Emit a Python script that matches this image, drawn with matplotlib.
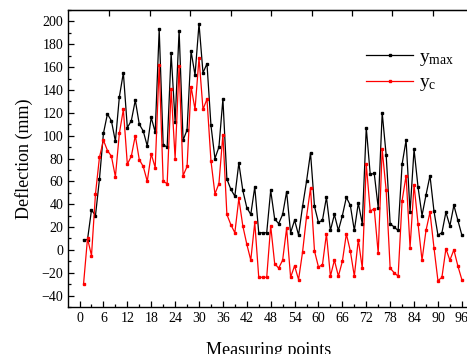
import numpy as np
import matplotlib
matplotlib.use("Agg")
import matplotlib.pyplot as plt
from matplotlib.ticker import MultipleLocator

plt.rcParams['font.family'] = ['Liberation Serif', 'DejaVu Serif']
plt.rcParams['mathtext.fontset'] = 'custom'
plt.rcParams['mathtext.rm'] = 'Liberation Serif'
plt.rcParams['mathtext.it'] = 'Liberation Serif'

points = list(range(1, 97))
y_max = [9, 9, 35, 30, 62, 102, 119, 113, 95, 134, 155, 107, 113, 131, 110, 104,
         91, 116, 103, 193, 92, 90, 172, 112, 192, 96, 105, 174, 153, 198, 155, 163,
         109, 80, 90, 132, 62, 53, 47, 76, 52, 37, 31, 55, 15, 15, 15, 52,
         27, 23, 31, 51, 15, 26, 13, 38, 60, 85, 38, 24, 26, 46, 17, 31,
         17, 30, 46, 39, 17, 41, 23, 107, 66, 67, 37, 120, 83, 23, 20, 17,
         75, 96, 33, 88, 55, 30, 48, 65, 34, 13, 15, 33, 21, 39, 26, 13]
y_c = [-30, 10, -5, 49, 81, 96, 87, 82, 64, 102, 123, 75, 82, 100, 79, 73,
       60, 84, 72, 162, 60, 58, 141, 80, 161, 65, 73, 143, 123, 168, 123, 132,
       78, 49, 58, 101, 31, 22, 15, 45, 21, 5, -9, 24, -24, -24, -24, 21,
       -12, -16, -9, 19, -24, -14, -26, -2, 29, 54, -1, -15, -13, 14, -23, -9,
       -23, -10, 14, -1, -23, 9, -16, 75, 34, 36, -3, 88, 52, -16, -20, -23,
       43, 65, 2, 57, 23, -9, 17, 33, 2, -27, -24, 1, -9, 0, -14, -26]

fig = plt.figure(figsize=(4.67, 3.54), dpi=100)
ax = fig.add_axes([68/467, 47/354, 401/467, 297/354])

ax.plot(points, y_max, color='black', lw=0.9, marker='s', ms=1.7,
        label=r'$\mathregular{y_{max}}$')
ax.plot(points, y_c, color='red', lw=0.9, marker='s', ms=1.7,
        label=r'$\mathregular{y_{c}}$')

ax.set_xlim(-2.9, 97.8)
ax.set_ylim(-50, 210)
ax.xaxis.set_major_locator(MultipleLocator(6))
ax.xaxis.set_minor_locator(MultipleLocator(3))
ax.set_yticks(np.arange(-40, 201, 20))
ax.yaxis.set_minor_locator(MultipleLocator(10))
ax.tick_params(which='both', direction='in', top=False, right=False, labelsize=10, width=0.9)
ax.tick_params(which='major', length=4)
ax.tick_params(which='minor', length=2.5)

sec = ax.secondary_xaxis('top')
sec.set_xticks(np.arange(7.5, 97, 10.15))
sec.tick_params(direction='in', length=4, labeltop=False, width=0.9)

for s in ax.spines.values():
    s.set_linewidth(1.0)

ax.set_xlabel('Measuring points', fontsize=13, labelpad=12)
ax.set_ylabel('Deflection (mm)', fontsize=13, labelpad=6)

leg = ax.legend(loc='upper left', bbox_to_anchor=(0.70, 0.93), frameon=False,
                fontsize=14, handlelength=2.4, handletextpad=0.3, labelspacing=0.3)

fig.savefig('out.png', dpi=100)
